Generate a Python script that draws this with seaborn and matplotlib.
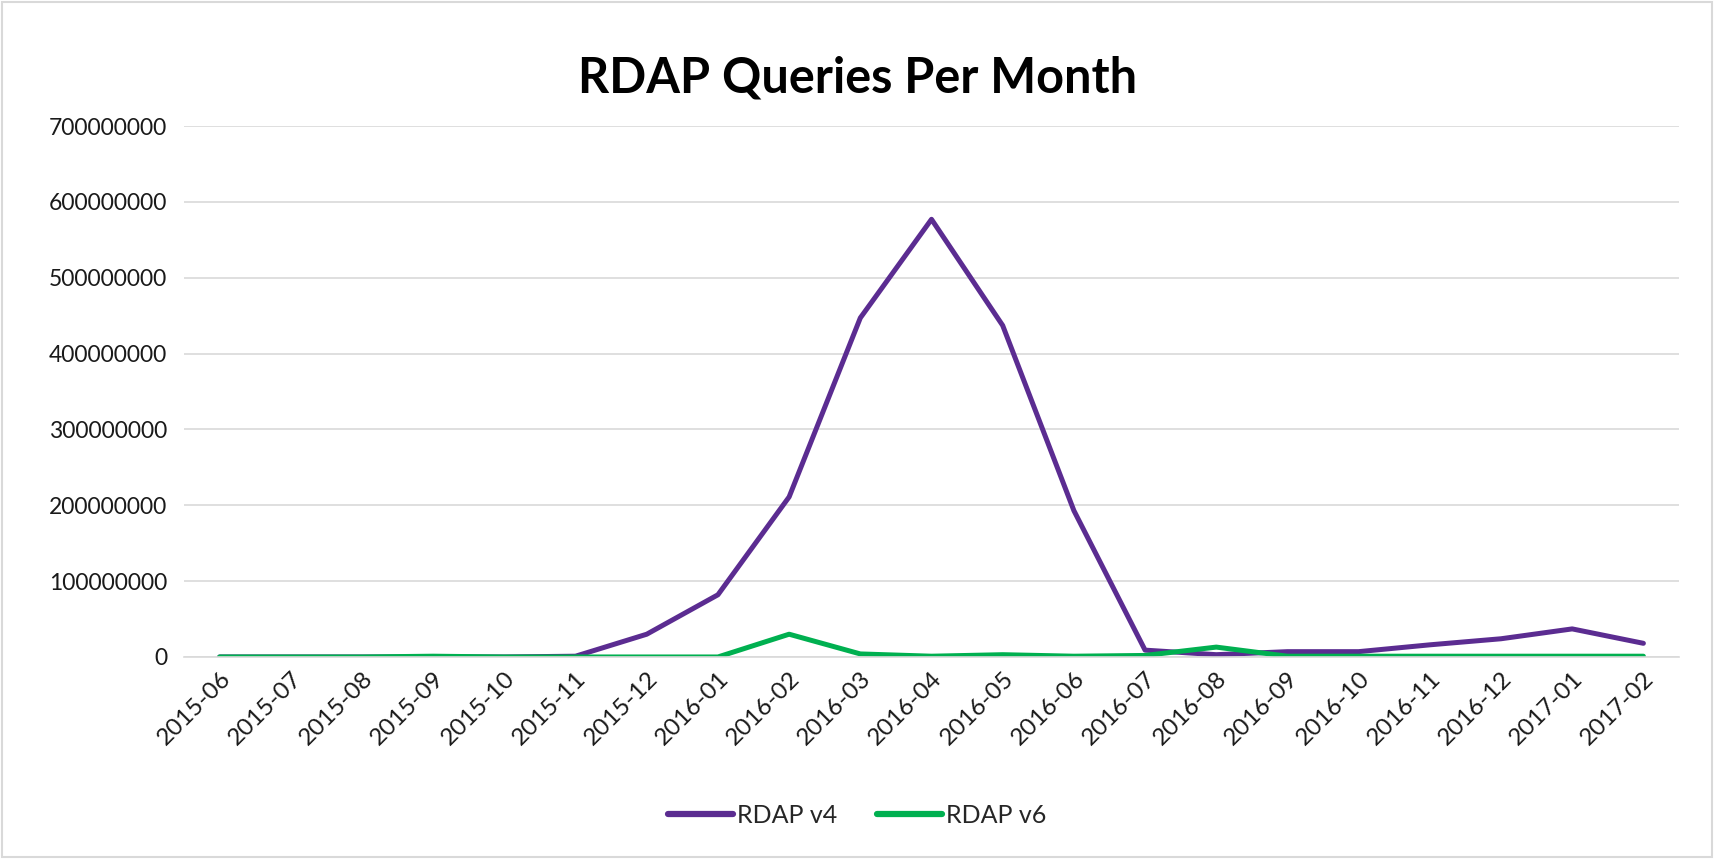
import matplotlib
import pandas as pd
import seaborn as sns
from matplotlib import pyplot as plt
from matplotlib.patches import Rectangle

matplotlib.use("Agg")

months = [
    "2015-06", "2015-07", "2015-08", "2015-09", "2015-10", "2015-11", "2015-12",
    "2016-01", "2016-02", "2016-03", "2016-04", "2016-05", "2016-06", "2016-07",
    "2016-08", "2016-09", "2016-10", "2016-11", "2016-12", "2017-01", "2017-02",
]
rdap_v4 = [
    0, 0, 0, 0, 0, 1_000_000, 30_000_000,
    82_000_000, 211_000_000, 447_000_000, 577_000_000, 437_000_000, 193_000_000, 9_000_000,
    3_000_000, 7_000_000, 7_000_000, 16_000_000, 24_000_000, 37_000_000, 18_000_000,
]
rdap_v6 = [
    0, 0, 0, 1_000_000, 0, 0, 0,
    0, 30_000_000, 4_000_000, 1_000_000, 3_000_000, 1_000_000, 2_000_000,
    13_000_000, 1_000_000, 1_000_000, 1_000_000, 1_000_000, 1_000_000, 1_000_000,
]
y_ticks = [0, 100_000_000, 200_000_000, 300_000_000, 400_000_000, 500_000_000, 600_000_000, 700_000_000]

series_names = ["RDAP v4", "RDAP v6"]
colors = {"RDAP v4": "#5B2C91", "RDAP v6": "#00B050"}

df = pd.concat(
    [
        pd.DataFrame({"month": months, "queries": rdap_v4, "series": "RDAP v4"}),
        pd.DataFrame({"month": months, "queries": rdap_v6, "series": "RDAP v6"}),
    ],
    ignore_index=True,
)

sns.set_theme(style="white")
plt.rcParams["font.family"] = ["Lato", "DejaVu Sans"]

fig = plt.figure(figsize=(17.15, 8.59), dpi=100)
ax = fig.add_axes([0.1073, 0.2352, 0.8717, 0.6181])

sns.lineplot(
    data=df, x="month", y="queries", hue="series", hue_order=series_names,
    palette=colors, linewidth=3.6, sort=False, ax=ax, legend=False,
)

ax.set_xlim(-0.5, len(months) - 0.5)
ax.set_ylim(0, 700_000_000)
ax.set_yticks(y_ticks)
ax.set_yticklabels([str(v) for v in y_ticks], fontsize=16.5, color="#1a1a1a")
ax.set_xticks(range(len(months)))
ax.set_xticklabels(months, rotation=45, ha="right", rotation_mode="anchor", fontsize=17.5, color="#1a1a1a")
ax.tick_params(axis="y", length=0, pad=12)
ax.tick_params(axis="x", length=0, pad=8)
ax.grid(axis="y", color="#D9D9D9", linewidth=1.2)
ax.set_axisbelow(True)
for side in ["top", "right", "left"]:
    ax.spines[side].set_visible(False)
ax.spines["bottom"].set_color("#D9D9D9")
ax.spines["bottom"].set_linewidth(1.2)
ax.set_xlabel("")
ax.set_ylabel("")

fig.suptitle("RDAP Queries Per Month", x=0.5, y=0.935, fontsize=35, fontweight="bold", color="#000000")

handles = [plt.Line2D([], [], color=colors[name], linewidth=4.5, solid_capstyle="round") for name in series_names]
fig.legend(
    handles, series_names, loc="center", bbox_to_anchor=(0.5, 0.051), ncol=2,
    frameon=False, fontsize=18, handlelength=2.6, handletextpad=0.15, columnspacing=1.6,
)

fig.add_artist(Rectangle((0.001, 0.002), 0.997, 0.996, transform=fig.transFigure,
                         fill=False, edgecolor="#D9D9D9", linewidth=1.5))

fig.savefig("out.png", dpi=100)
